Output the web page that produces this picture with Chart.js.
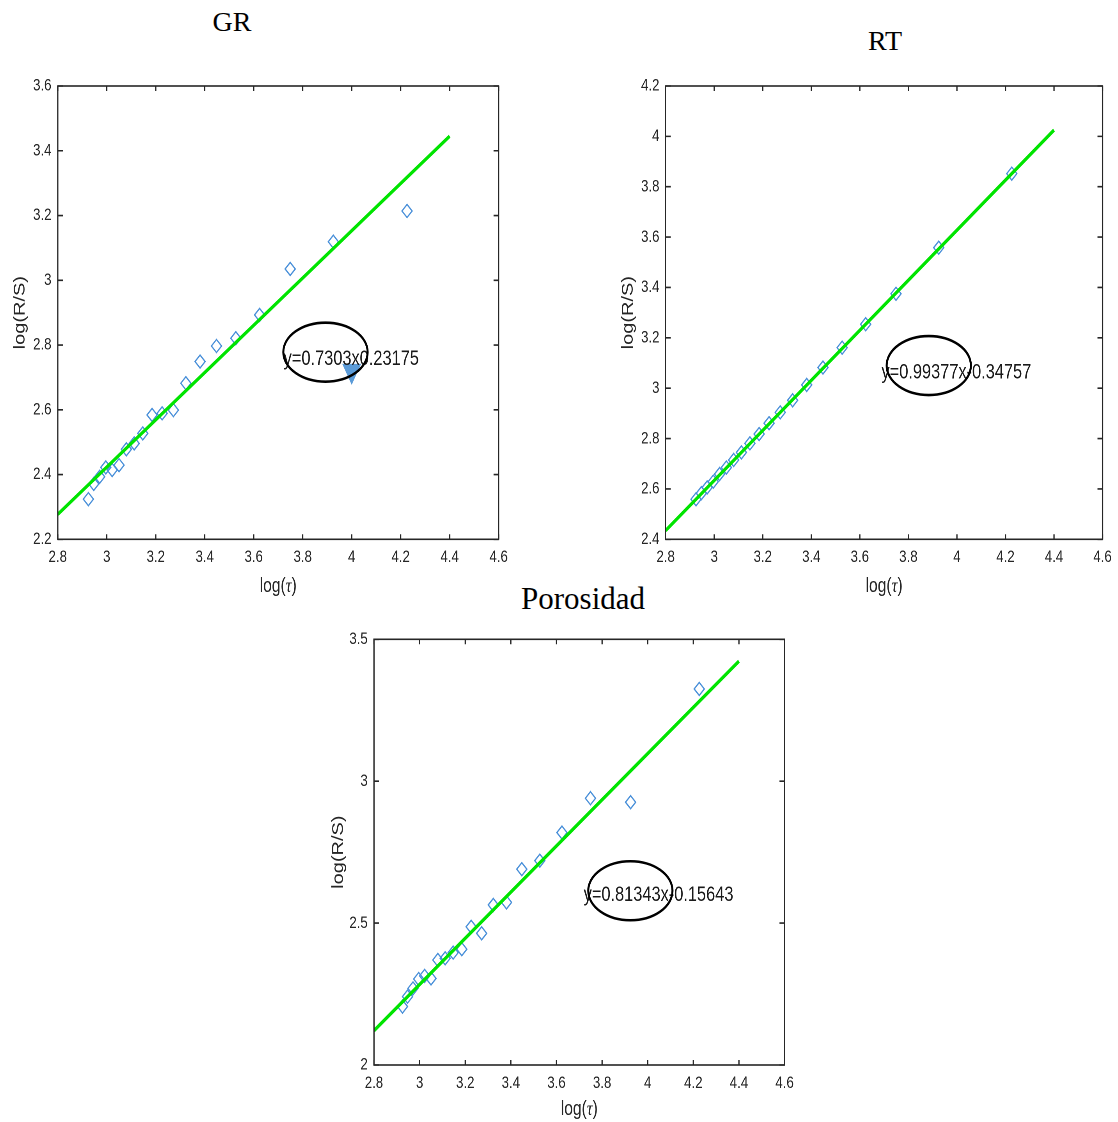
<!DOCTYPE html>
<html>
<head>
<meta charset="utf-8">
<script src="https://cdn.jsdelivr.net/npm/chart.js@4.4.1/dist/chart.umd.min.js"></script>
<style>
  html, body { margin: 0; padding: 0; background: #fff; }
  body { width: 1118px; height: 1122px; position: relative; overflow: hidden; }
  .title { position: absolute; font-family: 'Liberation Serif', 'Times New Roman', serif; color: #000; white-space: nowrap; transform: translateX(-50%); line-height: 1; }
  .panel { position: absolute; transform: scaleX(0.78); transform-origin: 0 0; }
</style>
</head>
<body>
<div class="title" style="left:232px;top:8px;font-size:28px">GR</div>
<div class="title" style="left:885px;top:27px;font-size:28px">RT</div>
<div class="title" style="left:583px;top:583px;font-size:31px">Porosidad</div>

<div class="panel" style="left:0px;top:60px;width:666.7px;height:545px"><canvas id="chart-gr"></canvas></div>
<div class="panel" style="left:600px;top:60px;width:664.1px;height:545px"><canvas id="chart-rt"></canvas></div>
<div class="panel" style="left:320px;top:615px;width:615.4px;height:507px"><canvas id="chart-por"></canvas></div>

<script>
// log(tau) values, shared by the three panels
const tauLog = [2.925, 2.947, 2.971, 2.996, 3.022, 3.050, 3.080, 3.112, 3.147, 3.185,
                3.226, 3.272, 3.323, 3.381, 3.448, 3.527, 3.624, 3.749, 3.925, 4.226];

// log(R/S) per log
const grRS  = [2.324, 2.371, 2.393, 2.422, 2.414, 2.429, 2.478, 2.496, 2.527, 2.584,
               2.589, 2.599, 2.682, 2.749, 2.797, 2.821, 2.893, 3.035, 3.119, 3.214];
const rtRS  = [2.559, 2.583, 2.606, 2.629, 2.659, 2.685, 2.715, 2.745, 2.781, 2.818,
               2.861, 2.904, 2.952, 3.013, 3.082, 3.161, 3.254, 3.375, 3.558, 3.852];
const porRS = [2.206, 2.241, 2.270, 2.303, 2.314, 2.305, 2.370, 2.376, 2.396, 2.408,
               2.487, 2.464, 2.564, 2.573, 2.690, 2.720, 2.819, 2.940, 2.926, 3.325];

// fitted lines (end points)
const fitX   = [2.8, 4.4];
const grFit  = [2.277, 3.445];
const rtFit  = [2.435, 4.025];
const porFit = [2.121, 3.423];

// data cursor on the GR panel
const grCursor = [{ x: 4.0, y: 2.72 }];

// axis ticks
const xTicks   = [2.8, 3, 3.2, 3.4, 3.6, 3.8, 4, 4.2, 4.4, 4.6];
const grTicks  = [2.2, 2.4, 2.6, 2.8, 3, 3.2, 3.4, 3.6];
const rtTicks  = [2.4, 2.6, 2.8, 3, 3.2, 3.4, 3.6, 3.8, 4, 4.2];
const porTicks = [2, 2.5, 3, 3.5];

// equation labels
const grEq  = 'y=0.7303x0.23175';
const rtEq  = 'y=0.99377x-0.34757';
const porEq = 'y=0.81343x-0.15643';

const axisColor = '#262626';
const sans = "'Liberation Sans', Arial, sans-serif";

// ── MATLAB style box, inner ticks, x label and equation note ──
const matlabAxes = {
  id: 'matlabAxes',
  afterDraw(chart, args, opts) {
    const { ctx, chartArea: a, scales: { x, y } } = chart;
    ctx.save();
    ctx.strokeStyle = axisColor;
    ctx.lineWidth = 1.6;
    ctx.strokeRect(a.left, a.top, a.right - a.left, a.bottom - a.top);
    ctx.beginPath();
    x.ticks.forEach(t => {
      const px = x.getPixelForValue(t.value);
      ctx.moveTo(px, a.bottom); ctx.lineTo(px, a.bottom - 5);
      ctx.moveTo(px, a.top); ctx.lineTo(px, a.top + 5);
    });
    y.ticks.forEach(t => {
      const py = y.getPixelForValue(t.value);
      ctx.moveTo(a.left, py); ctx.lineTo(a.left + 6.5, py);
      ctx.moveTo(a.right, py); ctx.lineTo(a.right - 6.5, py);
    });
    ctx.stroke();

    // x label: log(τ) with italic tau
    const parts = [['log(', '20px ' + sans], ['\u03c4', 'italic 21px "Liberation Serif", serif'], [')', '20px ' + sans]];
    let total = 0;
    parts.forEach(p => { ctx.font = p[1]; total += ctx.measureText(p[0]).width; });
    let cx = (a.left + a.right) / 2 - total / 2;
    const ly = a.bottom + opts.xLabelOffset;
    ctx.fillStyle = axisColor;
    ctx.textBaseline = 'middle';
    ctx.textAlign = 'left';
    parts.forEach(p => { ctx.font = p[1]; ctx.fillText(p[0], cx, ly); cx += ctx.measureText(p[0]).width; });

    // equation and ellipse
    const n = opts.note;
    ctx.font = '21px ' + sans;
    ctx.fillStyle = '#1a1a1a';
    ctx.fillText(n.text, x.getPixelForValue(n.tx), y.getPixelForValue(n.ty));
    ctx.beginPath();
    ctx.strokeStyle = '#000';
    ctx.lineWidth = 2.6;
    ctx.ellipse(x.getPixelForValue(n.cx), y.getPixelForValue(n.cy), 54, 29.5, 0, 0, Math.PI * 2);
    ctx.stroke();
    ctx.restore();
  }
};

function makePanel(id, p) {
  const datasets = [
    { type: 'line', data: fitX.map((v, i) => ({ x: v, y: p.fit[i] })), borderColor: '#00e400', borderWidth: 3.6,
      pointRadius: 0, showLine: true, order: 0 },
    { data: tauLog.map((v, i) => ({ x: v, y: p.rs[i] })), pointStyle: 'rectRot', pointRadius: 6.5,
      borderColor: '#4a90d9', borderWidth: 1.5, backgroundColor: 'rgba(0,0,0,0)', order: 1 },
  ];
  if (p.cursor) {
    datasets.push({ data: p.cursor, pointStyle: 'triangle', rotation: 180, pointRadius: 13,
      backgroundColor: '#5b9bd8', borderColor: '#5b9bd8', borderWidth: 1, order: -1 });
  }
  return new Chart(document.getElementById(id), {
    type: 'scatter',
    data: { datasets },
    plugins: [matlabAxes],
    options: {
      responsive: true,
      maintainAspectRatio: false,
      devicePixelRatio: 2,
      animation: false,
      layout: { padding: { left: 0, top: p.topPad, right: p.rightPad, bottom: 0 } },
      plugins: {
        legend: { display: false },
        tooltip: { enabled: false },
        matlabAxes: { note: p.note, xLabelOffset: p.xLabelOffset }
      },
      scales: {
        x: {
          type: 'linear', min: 2.8, max: 4.6,
          afterBuildTicks: s => { s.ticks = xTicks.map(v => ({ value: v })); },
          afterFit: s => { s.height = p.xH; },
          ticks: { autoSkip: false, maxRotation: 0, padding: 8, color: axisColor, font: { size: 17, family: sans },
                   callback: v => String(v) },
          grid: { display: false, drawTicks: false },
          border: { display: false }
        },
        y: {
          type: 'linear', min: p.yTicks[0], max: p.yTicks[p.yTicks.length - 1],
          afterBuildTicks: s => { s.ticks = p.yTicks.map(v => ({ value: v })); },
          afterFit: s => { s.width = p.yW; },
          ticks: { autoSkip: false, padding: 8, color: axisColor, font: { size: 17, family: sans },
                   callback: v => String(v) },
          grid: { display: false, drawTicks: false },
          border: { display: false },
          title: { display: true, text: 'log(R/S)', color: axisColor, font: { size: 20, family: sans },
                   padding: { top: p.yTitlePad, bottom: 0 } }
        }
      }
    }
  });
}

const grChart = makePanel('chart-gr', {
  rs: grRS, fit: grFit, yTicks: grTicks, cursor: grCursor,
  yW: 74, rightPad: 27.9, topPad: 26, xH: 65.7, yTitlePad: 14, xLabelOffset: 47.4,
  note: { text: grEq, tx: 3.722, ty: 2.756, cx: 3.893, cy: 2.778 }
});

const rtChart = makePanel('chart-rt', {
  rs: rtRS, fit: rtFit, yTicks: rtTicks,
  yW: 84.2, rightPad: 15, topPad: 26, xH: 65.7, yTitlePad: 24.3, xLabelOffset: 47.4,
  note: { text: rtEq, tx: 3.689, ty: 3.062, cx: 3.884, cy: 3.090 }
});

const porChart = makePanel('chart-por', {
  rs: porRS, fit: porFit, yTicks: porTicks,
  yW: 69.2, rightPad: 14.5, topPad: 24.3, xH: 57, yTitlePad: 12.1, xLabelOffset: 44.3,
  note: { text: porEq, tx: 3.719, ty: 2.599, cx: 3.924, cy: 2.614 }
});
</script>
</body>
</html>
